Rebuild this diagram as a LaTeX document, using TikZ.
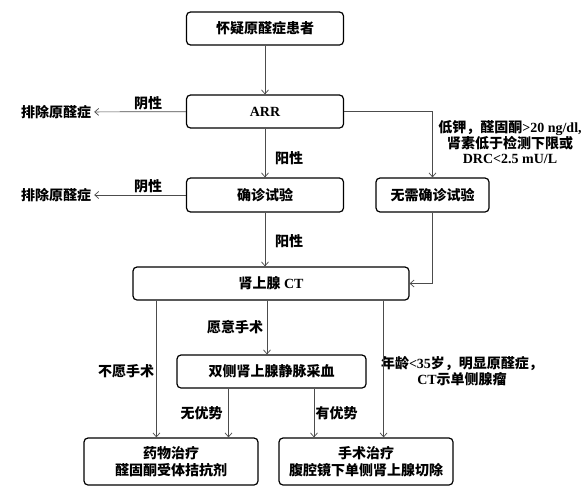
\documentclass[tikz,border=0pt]{standalone}
\usepackage{fontspec}
\setmainfont{Liberation Serif}
\newfontfamily\cjk{Noto Sans CJK SC}
\usetikzlibrary{arrows.meta}
\newcommand{\zh}[1]{{\cjk #1}}
\tikzstyle{stepbox}=[draw=black, line width=1.2pt, rounded corners=4pt, align=center, inner sep=0pt, font=\bfseries\fontsize{14}{16.5}\selectfont]
\tikzstyle{tag}=[align=center, inner sep=1pt, font=\bfseries\fontsize{14}{16}\selectfont]
\tikzstyle{link}=[draw=black!70, line width=0.7pt, -{Straight Barb[length=4pt,width=7pt]}]

\begin{document}
\begin{tikzpicture}[x=1pt, y=-1pt]
	\useasboundingbox (0,0) rectangle (586,490);
	% boxes
	\node[stepbox, minimum width=157pt, minimum height=33pt] (suspect) at (265,28.5) {\zh{怀疑原醛症患者}};
	\node[stepbox, minimum width=157pt, minimum height=33pt] (arr) at (265,111.5) {ARR};
	\node[stepbox, minimum width=157pt, minimum height=34pt] (confirm) at (265,195) {\zh{确诊试验}};
	\node[stepbox, minimum width=113pt, minimum height=34pt] (noneed) at (432.5,195) {\zh{无需确诊试验}};
	\node[stepbox, minimum width=276pt, minimum height=33pt] (ct) at (271,283.5) {\zh{肾上腺} CT};
	\node[stepbox, minimum width=189pt, minimum height=33pt] (avs) at (271.5,371.5) {\zh{双侧肾上腺静脉采血}};
	\node[stepbox, minimum width=174pt, minimum height=47pt] (drug) at (171,461.5) {\zh{药物治疗}\\\zh{醛固酮受体拮抗剂}};
	\node[stepbox, minimum width=174pt, minimum height=47pt] (surgery) at (366,461.5) {\zh{手术治疗}\\\zh{腹腔镜下单侧肾上腺切除}};
	% end points
	\node[tag, inner sep=3pt] (exclA) at (56,112) {\zh{排除原醛症}};
	\node[tag, inner sep=3pt] (exclB) at (56,195) {\zh{排除原醛症}};
	% labels
	\node[tag] (negA) at (148,103) {\zh{阴性}};
	\node[tag] (negB) at (148,186) {\zh{阴性}};
	\node[tag] (posA) at (289,158) {\zh{阳性}};
	\node[tag] (posB) at (289,241) {\zh{阳性}};
	\node[tag, font=\bfseries\fontsize{14}{15.5}\selectfont] (cond) at (510,142.5) {\zh{低钾，醛固酮}>20 ng/dl,\\\zh{肾素低于检测下限或}\\DRC<2.5 mU/L};
	\node[tag] (willing) at (235,327) {\zh{愿意手术}};
	\node[tag] (unwilling) at (126,371) {\zh{不愿手术}};
	\node[tag] (young) at (462,371) {\zh{年龄}<35\zh{岁，明显原醛症，}\\CT\zh{示单侧腺瘤}};
	\node[tag] (noadv) at (201.5,413) {\zh{无优势}};
	\node[tag] (adv) at (336.5,413) {\zh{有优势}};
	% connectors
	\draw[link] (suspect) -- (arr);
	\draw[link] (arr) -- (exclA);
	\draw[link] (arr) -- (confirm);
	\draw[link] (arr.east) -- (arr.east -| noneed.north) -- (noneed.north);
	\draw[link] (confirm) -- (exclB);
	\draw[link] (confirm.south) -- (confirm.south |- ct.north);
	\draw[link] (noneed.south) -- (noneed.south |- ct.east) -- (ct.east);
	\draw[link] ([xshift=24pt]ct.south west) -- ([xshift=24pt]ct.south west |- drug.north);
	\draw[link] ([xshift=-4.5pt]avs.north |- ct.south) -- ([xshift=-4.5pt]avs.north);
	\draw[link] ([xshift=-26pt]ct.south east) -- ([xshift=-26pt]ct.south east |- surgery.north);
	\draw[link] ([xshift=-43pt]avs.south) -- ([xshift=-43pt]avs.south |- drug.north);
	\draw[link] ([xshift=42.5pt]avs.south) -- ([xshift=42.5pt]avs.south |- surgery.north);
\end{tikzpicture}
\end{document}
